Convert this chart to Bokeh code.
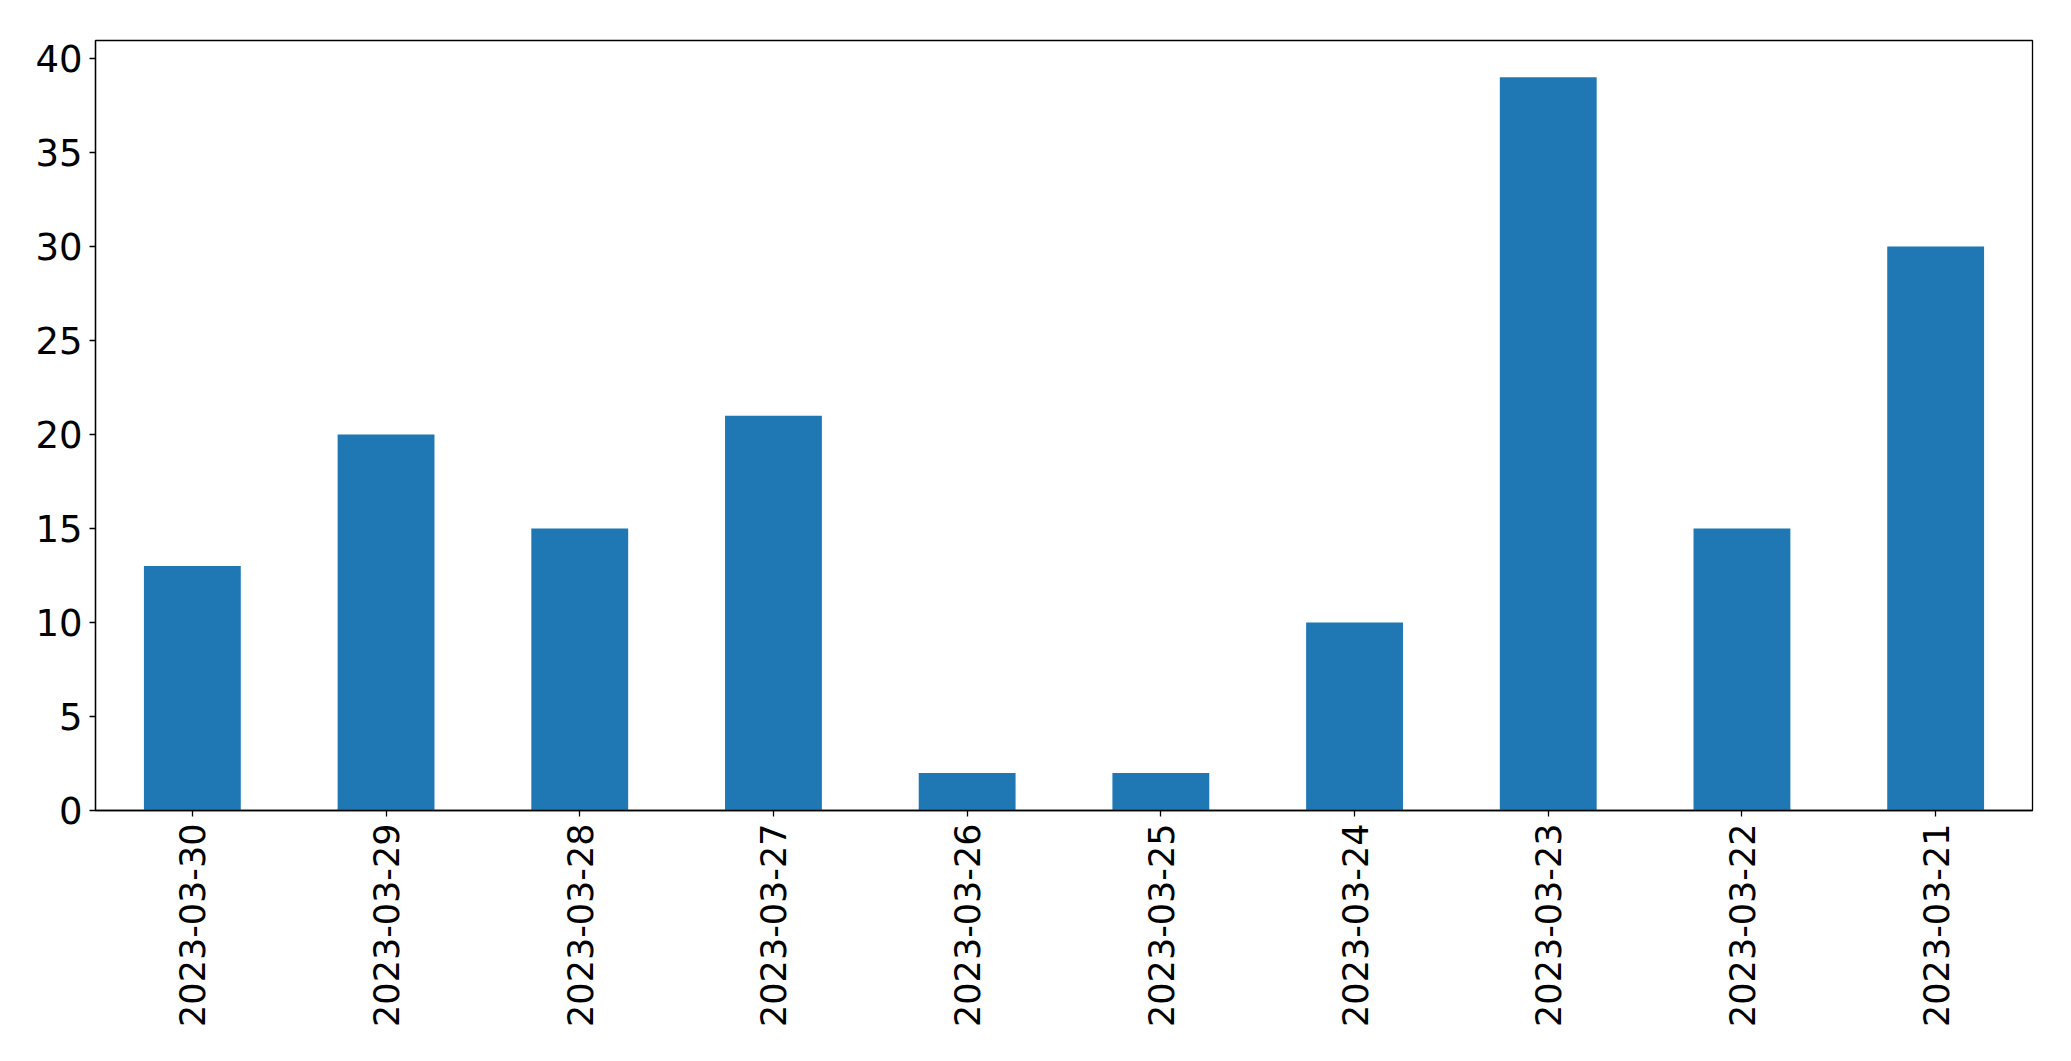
import math
from bokeh.plotting import figure
from bokeh.models import FactorRange, Range1d, FixedTicker, ColumnDataSource
from bokeh.embed import file_html
from bokeh.resources import INLINE

dates = ["2023-03-30", "2023-03-29", "2023-03-28", "2023-03-27", "2023-03-26",
         "2023-03-25", "2023-03-24", "2023-03-23", "2023-03-22", "2023-03-21"]
counts = [13, 20, 15, 21, 2, 2, 10, 39, 15, 30]
y_ticks = [0, 5, 10, 15, 20, 25, 30, 35, 40]

src = ColumnDataSource(data=dict(date=dates, count=counts))

p = figure(x_range=FactorRange(*dates, range_padding=0),
           y_range=Range1d(0, max(counts) * 1.05),
           frame_width=1937, frame_height=770,
           min_border_left=95, min_border_top=40, min_border_right=31, min_border_bottom=40,
           output_backend="svg", toolbar_location=None)

p.vbar(x="date", top="count", width=0.5, source=src, color="#1f77b4", line_color=None)

p.xgrid.grid_line_color = None
p.ygrid.grid_line_color = None
p.outline_line_color = "black"
p.outline_line_width = 1.3
p.background_fill_color = "white"
p.border_fill_color = "white"

p.yaxis.ticker = FixedTicker(ticks=y_ticks)
for ax in (p.xaxis[0], p.yaxis[0]):
    ax.major_label_text_font = "DejaVu Sans"
    ax.major_label_text_color = "black"
    ax.major_tick_out = 6
    ax.major_tick_in = 0
    ax.minor_tick_line_color = None
    ax.axis_line_color = "black"
    ax.axis_line_width = 1.3
    ax.major_tick_line_width = 1.3
    ax.major_label_standoff = 7
p.yaxis.major_label_text_font_size = "37px"
p.xaxis.major_label_text_font_size = "35px"
p.xaxis.major_label_orientation = math.pi / 2
p.xaxis.major_label_standoff = 7

open("out.html", "w").write(file_html(p, INLINE))
